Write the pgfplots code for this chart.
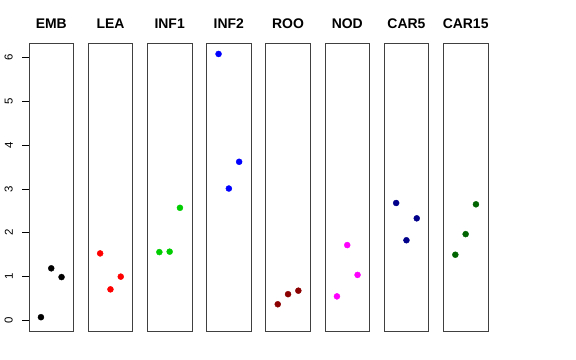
\documentclass[border=0pt]{standalone}
\usepackage{pgfplots}
\pgfplotsset{compat=1.18}
\usepackage{fontspec}
\setmainfont{Liberation Sans}
\definecolor{cEMB}{RGB}{0,0,0}
\definecolor{cLEA}{RGB}{255,0,0}
\definecolor{cINFa}{RGB}{0,205,0}
\definecolor{cINFb}{RGB}{0,0,255}
\definecolor{cROO}{RGB}{139,0,0}
\definecolor{cNOD}{RGB}{255,0,255}
\definecolor{cCARa}{RGB}{0,0,139}
\definecolor{cCARb}{RGB}{0,100,0}
\pgfplotsset{panel/.style={anchor=south west, width=44.5bp, height=288bp, scale only axis,
  xmin=-0.16, xmax=4.16, ymin=-0.24, ymax=6.33, xtick=\empty, ytick=\empty,
  axis line style={black!75, line width=0.8bp},
  title style={font=\fontsize{14}{16}\selectfont\bfseries, at={(0.5,1)}, anchor=base, yshift=8.7bp, inner sep=0pt}},
  pts/.style={only marks, mark=*, mark size=3bp}}
\begin{document}
\begin{tikzpicture}
\path[use as bounding box] (0,0) rectangle (576bp,360bp);
\begin{axis}[panel, at={(29bp,29bp)}, title={EMB}, ytick={0,1,2,3,4,5,6}, ytick pos=left,
  ytick align=outside, major tick length=7bp, tick style={black, line width=0.8bp},
  yticklabel style={font=\fontsize{11.5}{13}\selectfont, xshift=-9bp, rotate=90, anchor=south, inner sep=0pt},
  /pgf/number format/assume math mode=true]
\addplot[pts, color=cEMB] coordinates {(1,0.075)(2,1.19)(3,0.99)};
\end{axis}
\begin{axis}[panel, at={(88.2bp,29bp)}, title={LEA}]
\addplot[pts, color=cLEA] coordinates {(1,1.53)(2,0.71)(3,1.00)};
\end{axis}
\begin{axis}[panel, at={(147.4bp,29bp)}, title={INF1}]
\addplot[pts, color=cINFa] coordinates {(1,1.56)(2,1.57)(3,2.57)};
\end{axis}
\begin{axis}[panel, at={(206.6bp,29bp)}, title={INF2}]
\addplot[pts, color=cINFb] coordinates {(1,6.08)(2,3.01)(3,3.62)};
\end{axis}
\begin{axis}[panel, at={(265.8bp,29bp)}, title={ROO}]
\addplot[pts, color=cROO] coordinates {(1,0.37)(2,0.60)(3,0.68)};
\end{axis}
\begin{axis}[panel, at={(325bp,29bp)}, title={NOD}]
\addplot[pts, color=cNOD] coordinates {(1,0.55)(2,1.72)(3,1.04)};
\end{axis}
\begin{axis}[panel, at={(384.2bp,29bp)}, title={CAR5}]
\addplot[pts, color=cCARa] coordinates {(1,2.68)(2,1.83)(3,2.33)};
\end{axis}
\begin{axis}[panel, at={(443.4bp,29bp)}, title={CAR15}]
\addplot[pts, color=cCARb] coordinates {(1,1.50)(2,1.97)(3,2.65)};
\end{axis}
\end{tikzpicture}
\end{document}
